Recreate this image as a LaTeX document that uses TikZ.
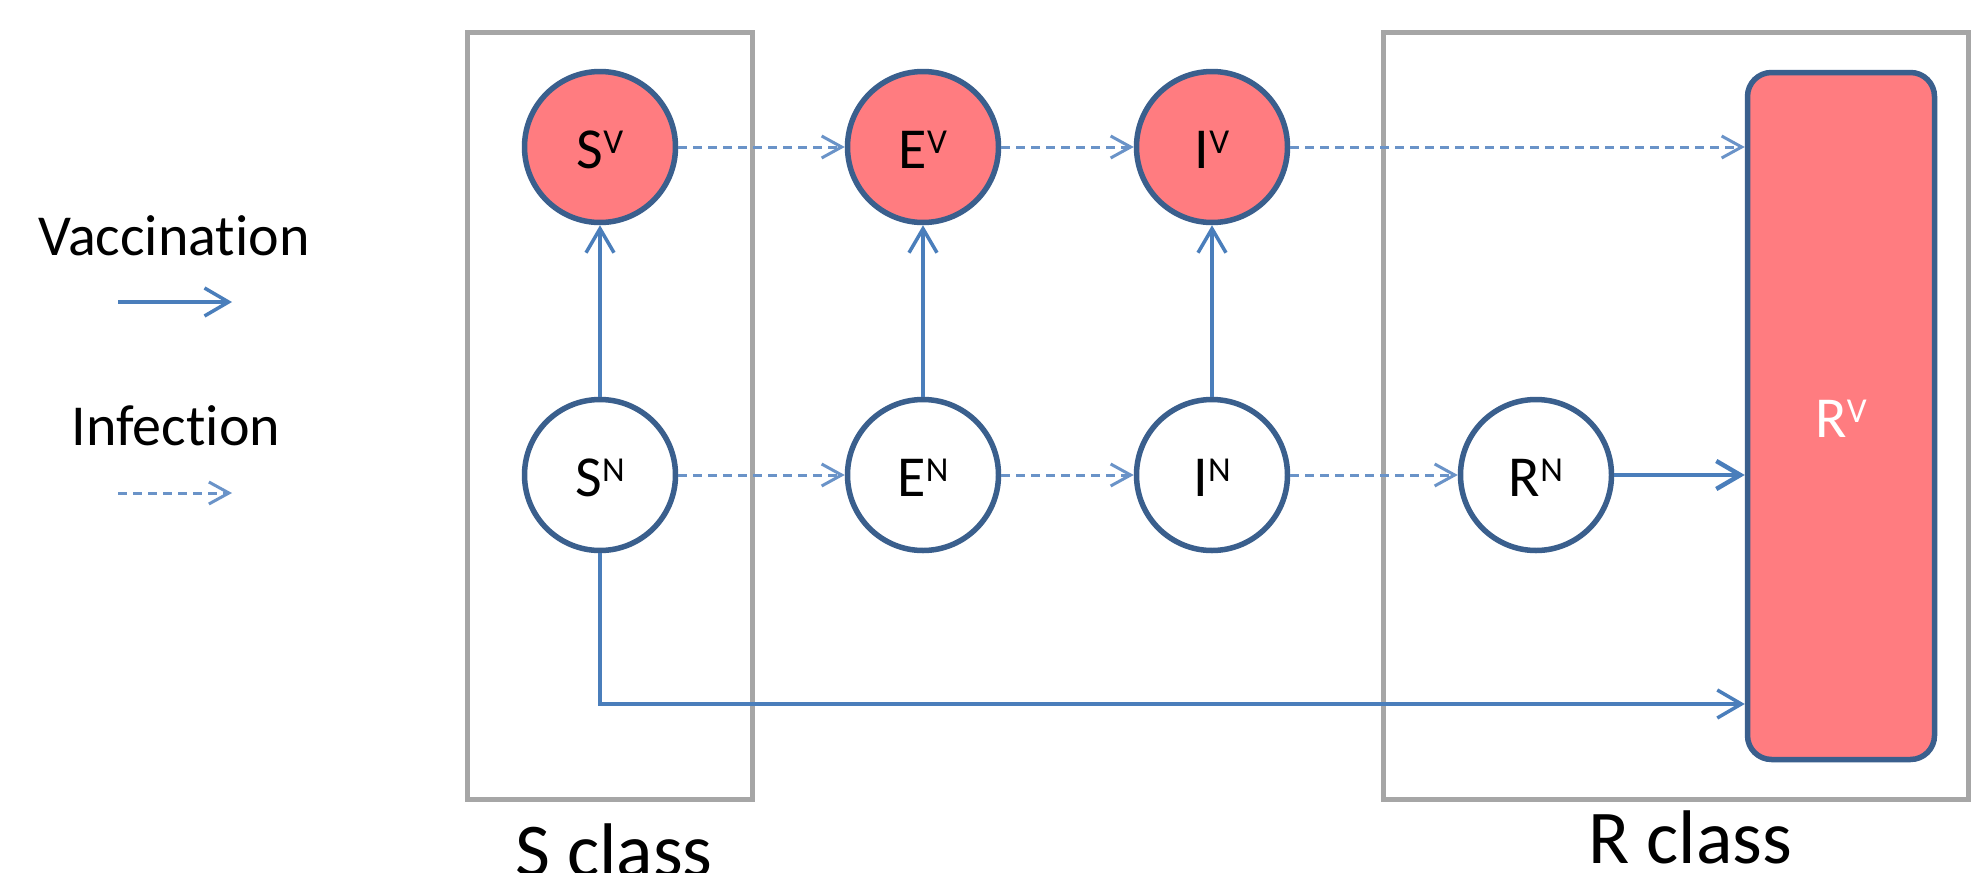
\documentclass[tikz,border=0pt]{standalone}
\usepackage{fontspec}
\setmainfont{Carlito}[Ligatures={NoCommon,NoContextual}]
\usetikzlibrary{arrows.meta}
\definecolor{salmon}{HTML}{FF7C80}
\definecolor{cborder}{HTML}{3A5F8D}
\definecolor{arrowblue}{HTML}{4A7EBB}
\definecolor{dashblue}{HTML}{6A93C8}
\definecolor{boxgray}{HTML}{A6A6A6}
\newcommand\supv[1]{\raisebox{7.5pt}{\fontsize{17.5pt}{17.5pt}\selectfont #1}}
\begin{document}
\begin{tikzpicture}[x=0.5pt,y=-0.5pt,
  comp/.style={circle, draw=cborder, line width=2.75pt, minimum size=75.5pt, inner sep=0pt,
    font=\fontsize{29pt}{29pt}\selectfont, text height=21pt, text depth=0pt},
  vac/.style={comp, fill=salmon},
  nonvac/.style={comp, fill=white},
  classbox/.style={draw=boxgray, line width=2.5pt},
  vacarrow/.style={draw=arrowblue, line width=1.75pt, -{Straight Barb[length=12pt,width=14pt]}},
  infarrow/.style={draw=dashblue, line width=1.5pt, dash pattern=on 4.5pt off 3pt,
    -{Straight Barb[length=10pt,width=11pt]}},
  legendtext/.style={anchor=base, font=\fontsize{29pt}{29pt}\selectfont, inner sep=0pt},
  classtext/.style={anchor=base, font=\fontsize{38pt}{38pt}\selectfont, inner sep=0pt},
]
\useasboundingbox (0,0) rectangle (1972,873);
\clip (0,0) rectangle (1972,873);
\fill[white] (0,0) rectangle (1972,873);

% class boxes
\draw[classbox] (467.5,32.5) rectangle (752.5,799.5);
\draw[classbox] (1383,32.5) rectangle (1968,799.5);

% compartments
\node[vac] (SV) at (600,147) {S\supv{V}};
\node[vac] (EV) at (923,147) {E\supv{V}};
\node[vac] (IV) at (1212,147) {I\supv{V}};
\node[nonvac] (SN) at (600,475) {S\supv{N}};
\node[nonvac] (EN) at (923,475) {E\supv{N}};
\node[nonvac] (IN) at (1212,475) {I\supv{N}};
\node[nonvac] (RN) at (1536,475) {R\supv{N}};
\node[draw=cborder, fill=salmon, line width=2.75pt, rounded corners=12pt,
      minimum width=93.5pt, minimum height=343.5pt, inner sep=0pt, text=white,
      font=\fontsize{29pt}{29pt}\selectfont, text height=21pt, text depth=0pt]
      (RV) at (1841,416) {R\supv{V}};

% infection arrows
\draw[infarrow] (SV) -- (EV);
\draw[infarrow] (EV) -- (IV);
\draw[infarrow] (IV) -- (IV -| RV.west);
\draw[infarrow] (SN) -- (EN);
\draw[infarrow] (EN) -- (IN);
\draw[infarrow] (IN) -- (RN);

% vaccination arrows
\draw[vacarrow] (SN) -- (SV);
\draw[vacarrow] (EN) -- (EV);
\draw[vacarrow] (IN) -- (IV);
\draw[vacarrow, line width=2.25pt] (RN) -- (RN -| RV.west);
\coordinate (bend) at (600,704);
\draw[vacarrow] (SN.south) -- (bend) -- (bend -| RV.west);

% legend
\node[legendtext] (vtext) at (174,255) {Vaccination};
\coordinate (va1) at (118,302);
\coordinate (va2) at (232,302);
\draw[vacarrow] (va1) -- (va2);
\node[legendtext] (itext) at (176,445) {Infection};
\coordinate (ia1) at (118,493);
\coordinate (ia2) at (232,493);
\draw[infarrow] (ia1) -- (ia2);

% class labels
\node[classtext] (sclass) at (614,876) {S class};
\node[classtext] (rclass) at (1690,863) {R class};
\end{tikzpicture}
\end{document}
